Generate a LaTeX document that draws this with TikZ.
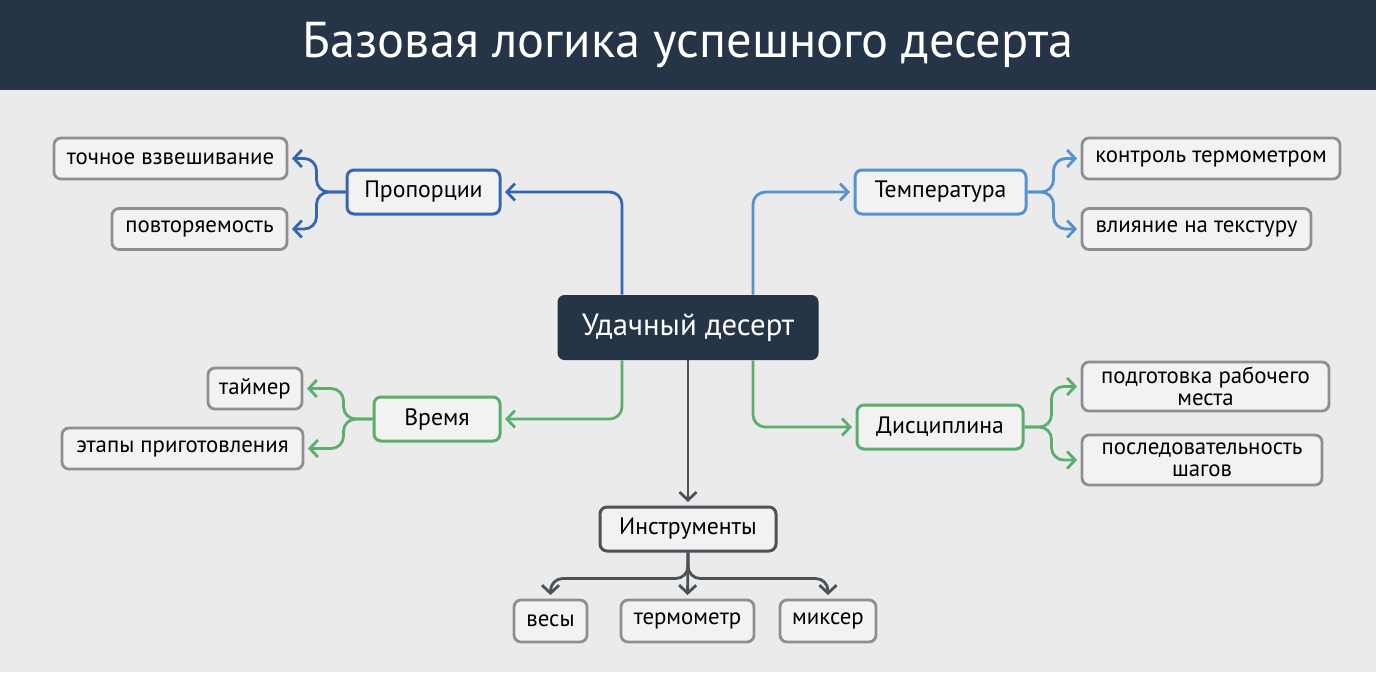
\documentclass[tikz,border=0pt]{standalone}
\usepackage{fontspec}
\setmainfont{PT Sans}
\usepackage{xcolor}
\usepackage{tikz}
\usetikzlibrary{positioning,arrows.meta}
\definecolor{cfondo}{HTML}{EBEBEB}
\definecolor{cbarra}{HTML}{253446}
\definecolor{cazul}{HTML}{3566B4}
\definecolor{cceleste}{HTML}{5492D0}
\definecolor{cverde}{HTML}{5BAE6E}
\definecolor{cgris}{HTML}{4B5259}
\definecolor{cborde}{HTML}{8C9096}
\definecolor{choja}{HTML}{F2F2F2}
\begin{document}
\begin{tikzpicture}[
  base/.style={rounded corners=4pt, line width=1.7pt, fill=choja, minimum height=0.88cm, inner sep=2pt, font=\fontsize{13.5}{15}\selectfont},
  hoja/.style={rounded corners=4pt, line width=1.6pt, draw=cborde, fill=choja, minimum height=0.82cm, inner sep=2pt, align=center, font=\fontsize{13}{12.5}\selectfont},
  rama/.style={line width=1.6pt, rounded corners=7pt, -{Straight Barb[length=1.6mm,width=3.4mm]}, shorten >=2pt}]
  \useasboundingbox (0,0) rectangle (27.52,-13.44);
  \fill[cfondo] (0,0) rectangle (27.52,-13.44);
  \fill[cbarra] (0,0) rectangle (27.52,-1.80);
  \node[text=white, font=\fontsize{28.7}{30}\selectfont] (titulo) at (13.76,-0.90) {Базовая логика успешного десерта};

  \node[fill=cbarra, rounded corners=4pt, minimum width=5.22cm, minimum height=1.30cm, text=white, font=\fontsize{17.5}{18}\selectfont] (nucleo) at (13.76,-6.55) {Удачный десерт};

  \node[base, draw=cazul, minimum width=3.06cm] (prop) at (8.47,-3.84) {Пропорции};
  \node[base, draw=cceleste, minimum width=3.42cm] (temp) at (18.81,-3.84) {Температура};
  \node[base, draw=cverde, minimum width=2.52cm] (tiempo) at (8.74,-8.38) {Время};
  \node[base, draw=cverde, minimum width=3.32cm] (disc) at (18.80,-8.54) {Дисциплина};
  \node[base, draw=cgris, minimum width=3.52cm] (instr) at (13.76,-10.58) {Инструменты};

  \node[hoja, minimum width=4.66cm] (pesaje) at (3.41,-3.17) {точное взвешивание};
  \node[hoja, minimum width=3.50cm] (repet) at (3.99,-4.58) {повторяемость};
  \node[hoja, minimum width=5.16cm] (termoctl) at (24.22,-3.17) {контроль термометром};
  \node[hoja, minimum width=4.58cm] (textura) at (23.93,-4.58) {влияние на текстуру};
  \node[hoja, minimum width=1.88cm] (timer) at (5.10,-7.77) {таймер};
  \node[hoja, minimum width=4.82cm] (etapas) at (3.65,-8.97) {этапы приготовления};
  \node[hoja, minimum width=4.94cm, minimum height=0.98cm] (puesto) at (24.11,-7.73) {подготовка рабочего\\места};
  \node[hoja, minimum width=4.80cm, minimum height=1.00cm] (pasos) at (24.04,-9.20) {последовательность\\шагов};
  \node[hoja, minimum width=1.46cm, minimum height=0.84cm] (vesy) at (11.01,-12.42) {весы};
  \node[hoja, minimum width=2.66cm, minimum height=0.84cm] (termo) at (13.75,-12.42) {термометр};
  \node[hoja, minimum width=1.92cm, minimum height=0.84cm] (mixer) at (16.56,-12.42) {миксер};

  \draw[rama, cazul] ([xshift=-1.32cm]nucleo.north) |- (prop.east);
  \draw[rama, cceleste] ([xshift=1.30cm]nucleo.north) |- (temp.west);
  \draw[rama, cverde] ([xshift=-1.32cm]nucleo.south) |- (tiempo.east);
  \draw[rama, cverde] ([xshift=1.30cm]nucleo.south) |- (disc.west);
  \draw[rama, cgris] (nucleo.south) -- (instr.north);

  \draw[rama, cazul] (prop.west) -- ++(-0.58,0) |- (pesaje.east);
  \draw[rama, cazul] (prop.west) -- ++(-0.58,0) |- (repet.east);
  \draw[rama, cceleste] (temp.east) -- ++(0.52,0) |- (termoctl.west);
  \draw[rama, cceleste] (temp.east) -- ++(0.52,0) |- (textura.west);
  \draw[rama, cverde] (tiempo.west) -- ++(-0.58,0) |- (timer.east);
  \draw[rama, cverde] (tiempo.west) -- ++(-0.58,0) |- (etapas.east);
  \draw[rama, cverde] (disc.east) -- ++(0.54,0) |- (puesto.west);
  \draw[rama, cverde] (disc.east) -- ++(0.54,0) |- (pasos.west);
  \draw[rama, cgris] (instr.south) -- ++(0,-0.52) -| (vesy.north);
  \draw[rama, cgris] (instr.south) -- (termo.north);
  \draw[rama, cgris] (instr.south) -- ++(0,-0.52) -| (mixer.north);
\end{tikzpicture}
\end{document}
